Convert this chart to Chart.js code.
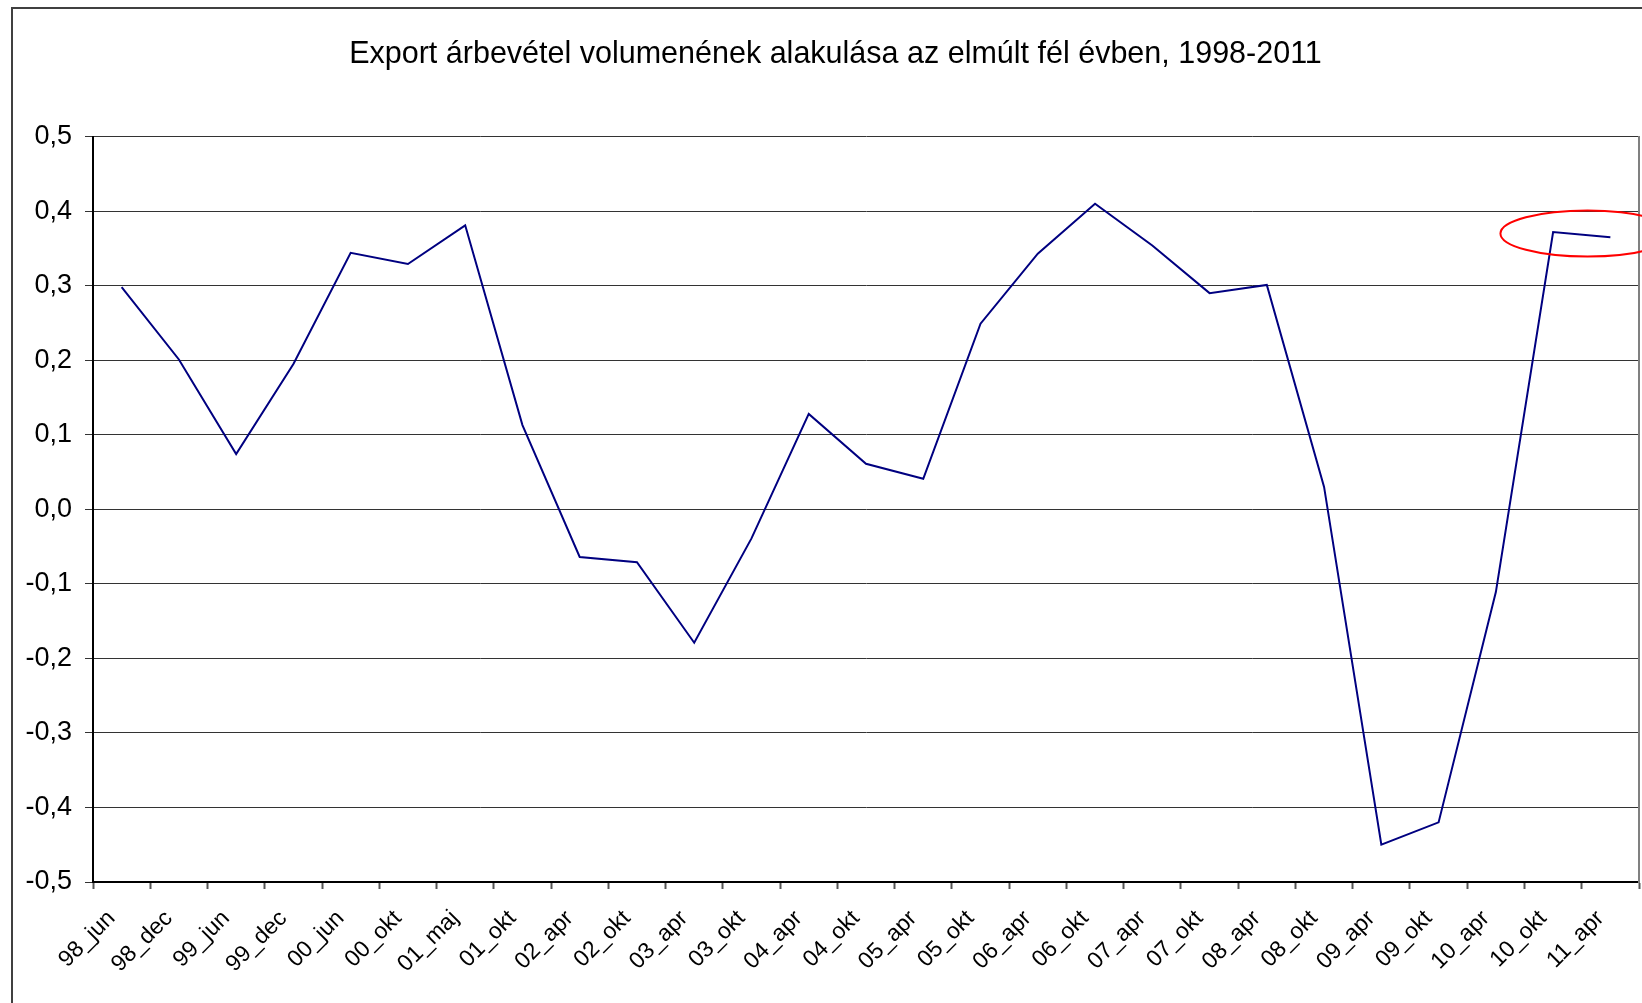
<!DOCTYPE html>
<html>
<head>
<meta charset="utf-8">
<title>Export árbevétel</title>
<script src="https://cdn.jsdelivr.net/npm/chart.js@4/dist/chart.umd.min.js"></script>
<style>
	body { margin: 0; background: #fff; overflow: hidden; }
	/* canvas is a bit wider than the window, the frame runs off the right edge like in the original */
	#chart-division { width: 1662px; height: 1003px; }
</style>
</head>
<body>
<div id="chart-division"><canvas id="export-chart"></canvas></div>
<script>
// chart data
const periods = ['98_jun', '98_dec', '99_jun', '99_dec', '00_jun', '00_okt', '01_maj', '01_okt',
	'02_apr', '02_okt', '03_apr', '03_okt', '04_apr', '04_okt', '05_apr', '05_okt', '06_apr',
	'06_okt', '07_apr', '07_okt', '08_apr', '08_okt', '09_apr', '09_okt', '10_apr', '10_okt', '11_apr'];
const exportVolume = [0.298, 0.201, 0.074, 0.195, 0.344, 0.329, 0.381, 0.113,
	-0.064, -0.071, -0.179, -0.039, 0.128, 0.061, 0.041, 0.249, 0.343,
	0.410, 0.354, 0.290, 0.301, 0.030, -0.450, -0.420, -0.111, 0.372, 0.365];
const yMin = -0.5;
const yMax = 0.5;
const yStep = 0.1;
const titleText = 'Export árbevétel volumenének alakulása az elmúlt fél évben, 1998-2011';

const fontFamily = "Arial, 'Liberation Sans', sans-serif";

// hungarian style decimal comma
function commaLabel(v) {
	if (Math.abs(v) < 1e-9) return '0,0';
	return v.toFixed(1).replace('.', ',');
}

// outer frame and the red ellipse around the last two points
const decorations = {
	id: 'decorations',
	beforeDraw(chart) {
		const ctx = chart.ctx;
		ctx.save();
		ctx.strokeStyle = '#404040';
		ctx.lineWidth = 2;
		ctx.strokeRect(12, 8, 1700, 1100);
		ctx.restore();
	},
	afterDraw(chart) {
		const ctx = chart.ctx;
		const x = chart.scales.x;
		const y = chart.scales.y;
		const cw = x.getPixelForValue(1) - x.getPixelForValue(0);
		const cx = x.getPixelForValue(25.6);
		const cy = y.getPixelForValue(0.37);
		const ry = y.getPixelForValue(0) - y.getPixelForValue(0.031);
		ctx.save();
		ctx.strokeStyle = '#ff0000';
		ctx.lineWidth = 2;
		ctx.beginPath();
		ctx.ellipse(cx, cy, cw * 1.52, ry, 0, 0, Math.PI * 2);
		ctx.stroke();
		ctx.restore();
	}
};

const chart = new Chart(document.getElementById('export-chart'), {
	type: 'line',
	data: {
		labels: periods,
		datasets: [{
			label: 'export',
			data: exportVolume,
			borderColor: '#000080',
			borderWidth: 2,
			pointRadius: 0,
			tension: 0,
			fill: false
		}]
	},
	options: {
		responsive: true,
		maintainAspectRatio: false,
		animation: false,
		layout: { padding: { left: 12, right: 3, top: 0, bottom: 0 } },
		plugins: {
			legend: { display: false },
			tooltip: { enabled: false },
			title: {
				display: true,
				text: titleText,
				color: '#000',
				font: { family: fontFamily, size: 30.5, weight: 'normal', lineHeight: 1.2 },
				padding: { top: 36, bottom: 64 }
			}
		},
		scales: {
			x: {
				offset: true,
				grid: {
					offset: true,
					drawOnChartArea: false,
					drawTicks: true,
					tickLength: 7,
					tickColor: '#555',
					tickWidth: 2
				},
				border: { display: true, color: '#000', width: 2 },
				ticks: {
					autoSkip: false,
					maxRotation: 45,
					minRotation: 45,
					padding: 16,
					labelOffset: -10,
					color: '#000',
					font: { family: fontFamily, size: 23 }
				},
				afterFit(scale) { scale.height = 121; }
			},
			y: {
				min: yMin,
				max: yMax,
				grid: {
					color: '#333',
					lineWidth: 1,
					tickLength: 8,
					tickColor: '#333'
				},
				border: { display: true, color: '#000', width: 2 },
				ticks: {
					stepSize: yStep,
					padding: 13,
					color: '#000',
					font: { family: fontFamily, size: 27 },
					callback: (v) => commaLabel(v)
				},
				afterFit(scale) { scale.width = 81; }
			},
			// right side of the plot frame, grey, no ticks
			yRight: {
				position: 'right',
				min: yMin,
				max: yMax,
				grid: { drawOnChartArea: false, drawTicks: false },
				border: { display: true, color: '#808080', width: 2 },
				ticks: { display: false },
				afterFit(scale) { scale.width = 20; }
			}
		}
	},
	plugins: [decorations]
});
</script>
</body>
</html>
